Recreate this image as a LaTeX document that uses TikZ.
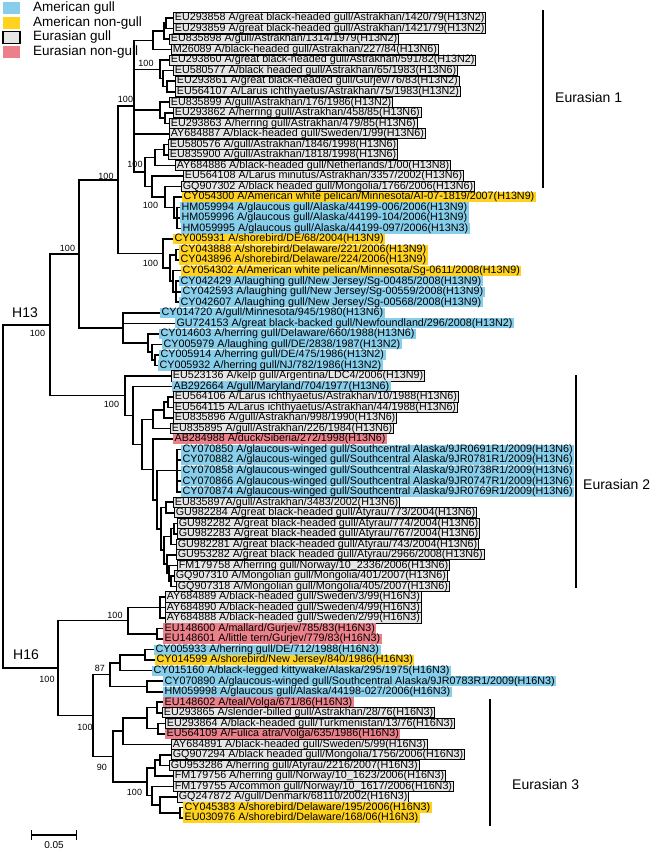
\documentclass[tikz,border=0pt]{standalone}
\usepackage{fontspec}
\setmainfont{Liberation Sans}
\usetikzlibrary{calc}

\definecolor{gullblue}{RGB}{135,206,235}
\definecolor{nongullyellow}{RGB}{255,210,30}
\definecolor{gullgray}{RGB}{230,230,230}
\definecolor{nongullpink}{RGB}{236,128,138}

% clade: name, x, first child, last child
\newcommand{\clade}[4]{%
  \path let \p1=(#3), \p2=(#4) in (#2pt,{0.5*(\y1+\y2)}) coordinate (#1);
  \draw[branch] (#3) -| (#1) |- (#4);}
\newcommand{\twig}[2]{\draw[branch] (#1) |- (#2);}

\begin{document}
\begin{tikzpicture}[x=1pt,y=-1pt,
    branch/.style={line width=1.6pt},
    leaf/.style={anchor=west,font=\fontsize{10.75}{11}\selectfont,inner xsep=1.4pt,inner ysep=0pt,text height=7.9pt,text depth=2.3pt},
    gullam/.style={leaf,fill=gullblue},
    nongullam/.style={leaf,fill=nongullyellow},
    gulleu/.style={leaf,fill=gullgray,draw=black,line width=0.9pt},
    nongulleu/.style={leaf,fill=nongullpink},
    boot/.style={font=\fontsize{9}{9}\selectfont,inner sep=0pt},
    big/.style={font=\fontsize{14}{14}\selectfont,inner sep=0pt,anchor=west},
    keytext/.style={font=\fontsize{13.5}{14}\selectfont,inner sep=0pt,anchor=west},
    key/.style={minimum width=17pt,minimum height=12pt,inner sep=0pt}]
\useasboundingbox (0,0) rectangle (654,851);

% legend
\node[key,fill=gullblue] (keyam) at (11.5,8.5) {};
\node[key,fill=nongullyellow] (keynam) at (11.5,23) {};
\node[key,fill=gullgray,draw=black,line width=1.6pt] (keyeu) at (11.5,37.5) {};
\node[key,fill=nongullpink] (keyneu) at (11.5,52.5) {};
\node[keytext] (txtam) at (33,8.5) {American gull};
\node[keytext] (txtnam) at (33,23) {American non-gull};
\node[keytext] (txteu) at (33,37.5) {Eurasian gull};
\node[keytext] (txtneu) at (33,52.5) {Eurasian non-gull};

% leaves, H13
\node[gulleu] (EU293858) at (173,18.0) {EU293858 A/great black-headed gull/Astrakhan/1420/79(H13N2)};
\node[gulleu] (EU293859) at (173,28.5) {EU293859 A/great black-headed gull/Astrakhan/1421/79(H13N2)};
\node[gulleu] (EU835898) at (169,39.1) {EU835898 A/gull/Astrakhan/1314/1979(H13N2)};
\node[gulleu] (M26089) at (171,49.6) {M26089 A/black-headed gull/Astrakhan/227/84(H13N6)};
\node[gulleu] (EU293860) at (169,60.1) {EU293860 A/great black-headed gull/Astrakhan/591/82(H13N2)};
\node[gulleu] (EU580577) at (173,70.6) {EU580577 A/black headed gull/Astrakhan/65/1983(H13N6)};
\node[gulleu] (EU293861) at (175,81.2) {EU293861 A/great black-headed gull/Gurjev/76/83(H13N2)};
\node[gulleu] (EU564107) at (175,91.7) {EU564107 A/Larus ichthyaetus/Astrakhan/75/1983(H13N2)};
\node[gulleu] (EU835899) at (169,102.2) {EU835899 A/gull/Astrakhan/176/1986(H13N2)};
\node[gulleu] (EU293862) at (173,112.7) {EU293862 A/herring gull/Astrakhan/458/85(H13N6)};
\node[gulleu] (EU293863) at (169,123.3) {EU293863 A/herring gull/Astrakhan/479/85(H13N6)};
\node[gulleu] (AY684887) at (169,133.8) {AY684887 A/black-headed gull/Sweden/1/99(H13N6)};
\node[gulleu] (EU580576) at (168,144.3) {EU580576 A/gull/Astrakhan/1846/1998(H13N6)};
\node[gulleu] (EU835900) at (168,154.8) {EU835900 A/gull/Astrakhan/1818/1998(H13N6)};
\node[gulleu] (AY684886) at (175,165.4) {AY684886 A/black-headed gull/Netherlands/1/00(H13N8)};
\node[gulleu] (EU564108) at (183,175.9) {EU564108 A/Larus minutus/Astrakhan/3357/2002(H13N6)};
\node[gulleu] (GQ907302) at (181,186.4) {GQ907302 A/black headed gull/Mongolia/1766/2006(H13N6)};
\node[nongullam] (CY054300) at (182,196.9) {CY054300 A/American white pelican/Minnesota/AI-07-1819/2007(H13N9)};
\node[gullam] (HM059994) at (180,207.5) {HM059994 A/glaucous gull/Alaska/44199-006/2006(H13N9)};
\node[gullam] (HM059996) at (180,218.0) {HM059996 A/glaucous gull/Alaska/44199-104/2006(H13N9)};
\node[gullam] (HM059995) at (181,228.5) {HM059995 A/glaucous gull/Alaska/44199-097/2006(H13N3)};
\node[nongullam] (CY005931) at (173,239.0) {CY005931 A/shorebird/DE/68/2004(H13N9)};
\node[nongullam] (CY043888) at (179,249.6) {CY043888 A/shorebird/Delaware/221/2006(H13N9)};
\node[nongullam] (CY043896) at (179,260.1) {CY043896 A/shorebird/Delaware/224/2006(H13N9)};
\node[nongullam] (CY054302) at (181,270.6) {CY054302 A/American white pelican/Minnesota/Sg-0611/2008(H13N9)};
\node[gullam] (CY042429) at (179,281.2) {CY042429 A/laughing gull/New Jersey/Sg-00485/2008(H13N9)};
\node[gullam] (CY042593) at (181,291.7) {CY042593 A/laughing gull/New Jersey/Sg-00559/2008(H13N9)};
\node[gullam] (CY042607) at (179,302.2) {CY042607 A/laughing gull/New Jersey/Sg-00568/2008(H13N9)};
\node[gullam] (CY014720) at (160,312.7) {CY014720 A/gull/Minnesota/945/1980(H13N6)};
\node[gullam] (GU724153) at (175,323.3) {GU724153 A/great black-backed gull/Newfoundland/296/2008(H13N2)};
\node[gullam] (CY014603) at (159,333.8) {CY014603 A/herring gull/Delaware/660/1988(H13N6)};
\node[gullam] (CY005979) at (162,344.3) {CY005979 A/laughing gull/DE/2838/1987(H13N2)};
\node[gullam] (CY005914) at (159,354.8) {CY005914 A/herring gull/DE/475/1986(H13N2)};
\node[gullam] (CY005932) at (158,365.4) {CY005932 A/herring gull/NJ/782/1986(H13N2)};
\node[gulleu] (EU523136) at (171,375.9) {EU523136 A/kelp gull/Argentina/LDC4/2006(H13N9)};
\node[gullam] (AB292664) at (172,386.4) {AB292664 A/gull/Maryland/704/1977(H13N6)};
\node[gulleu] (EU564106) at (173,396.9) {EU564106 A/Larus ichthyaetus/Astrakhan/10/1988(H13N6)};
\node[gulleu] (EU564115) at (173,407.5) {EU564115 A/Larus ichthyaetus/Astrakhan/44/1988(H13N6)};
\node[gulleu] (EU835896) at (173,418.0) {EU835896 A/gull/Astrakhan/998/1990(H13N6)};
\node[gulleu] (EU835895) at (170,428.5) {EU835895 A/gull/Astrakhan/226/1984(H13N6)};
\node[nongulleu] (AB284988) at (173,439.1) {AB284988 A/duck/Siberia/272/1998(H13N6)};
\node[gullam] (CY070850) at (181,449.6) {CY070850 A/glaucous-winged gull/Southcentral Alaska/9JR0691R1/2009(H13N6)};
\node[gullam] (CY070882) at (181,460.1) {CY070882 A/glaucous-winged gull/Southcentral Alaska/9JR0781R1/2009(H13N6)};
\node[gullam] (CY070858) at (181,470.6) {CY070858 A/glaucous-winged gull/Southcentral Alaska/9JR0738R1/2009(H13N6)};
\node[gullam] (CY070866) at (181,481.2) {CY070866 A/glaucous-winged gull/Southcentral Alaska/9JR0747R1/2009(H13N6)};
\node[gullam] (CY070874) at (181,491.7) {CY070874 A/glaucous-winged gull/Southcentral Alaska/9JR0769R1/2009(H13N6)};
\node[gulleu] (EU835897) at (173,502.2) {EU835897A/gull/Astrakhan/3483/2002(H13N6)};
\node[gulleu] (GU982284) at (174,512.7) {GU982284 A/great black-headed gull/Atyrau/773/2004(H13N6)};
\node[gulleu] (GU982282) at (177,523.3) {GU982282 A/great black-headed gull/Atyrau/774/2004(H13N6)};
\node[gulleu] (GU982283) at (177,533.8) {GU982283 A/great black-headed gull/Atyrau/767/2004(H13N6)};
\node[gulleu] (GU982281) at (176,544.3) {GU982281 A/great black-headed gull/Atyrau/743/2004(H13N6)};
\node[gulleu] (GU953282) at (176,554.8) {GU953282 A/great black headed gull/Atyrau/2966/2008(H13N6)};
\node[gulleu] (FM179758) at (177,565.4) {FM179758 A/herring gull/Norway/10\_2336/2006(H13N6)};
\node[gulleu] (GQ907310) at (174,575.9) {GQ907310 A/Mongolian gull/Mongolia/401/2007(H13N6)};
\node[gulleu] (GQ907318) at (176,586.4) {GQ907318 A/Mongolian gull/Mongolia/405/2007(H13N6)};
% leaves, H16
\node[gulleu] (AY684889) at (165,596.9) {AY684889 A/black-headed gull/Sweden/3/99(H16N3)};
\node[gulleu] (AY684890) at (165,607.5) {AY684890 A/black-headed gull/Sweden/4/99(H16N3)};
\node[gulleu] (AY684888) at (165,618.0) {AY684888 A/black-headed gull/Sweden/2/99(H16N3)};
\node[nongulleu] (EU148600) at (163,628.5) {EU148600 A/mallard/Gurjev/785/83(H16N3)};
\node[nongulleu] (EU148601) at (163,639.1) {EU148601 A/little tern/Gurjev/779/83(H16N3)};
\node[gullam] (CY005933) at (154,649.6) {CY005933 A/herring gull/DE/712/1988(H16N3)};
\node[nongullam] (CY014599) at (155,660.1) {CY014599 A/shorebird/New Jersey/840/1986(H16N3)};
\node[gullam] (CY015160) at (152,670.6) {CY015160 A/black-legged kittywake/Alaska/295/1975(H16N3)};
\node[gullam] (CY070890) at (163,681.2) {CY070890 A/glaucous-winged gull/Southcentral Alaska/9JR0783R1/2009(H16N3)};
\node[gullam] (HM059998) at (163,691.7) {HM059998 A/glaucous gull/Alaska/44198-027/2006(H16N3)};
\node[nongulleu] (EU148602) at (163,702.2) {EU148602 A/teal/Volga/671/86(H16N3)};
\node[gulleu] (EU293865) at (162,712.7) {EU293865 A/slender-billed gull/Astrakhan/28/76(H16N3)};
\node[gulleu] (EU293864) at (165,723.3) {EU293864 A/black-headed gull/Turkmenistan/13/76(H16N3)};
\node[nongulleu] (EU564109) at (165,733.8) {EU564109 A/Fulica atra/Volga/635/1986(H16N3)};
\node[gulleu] (AY684891) at (171,744.3) {AY684891 A/black-headed gull/Sweden/5/99(H16N3)};
\node[gulleu] (GQ907294) at (171,754.8) {GQ907294 A/black headed gull/Mongolia/1756/2006(H16N3)};
\node[gulleu] (GU953286) at (169,765.4) {GU953286 A/herring gull/Atyrau/2216/2007(H16N3)};
\node[gulleu] (FM179756) at (173,775.9) {FM179756 A/herring gull/Norway/10\_1623/2006(H16N3)};
\node[gulleu] (FM179755) at (173,786.4) {FM179755 A/common gull/Norway/10\_1617/2006(H16N3)};
\node[gulleu] (GQ247872) at (177,796.9) {GQ247872 A/gull/Denmark/68110/2002(H16N3)};
\node[nongullam] (CY045383) at (183,807.5) {CY045383 A/shorebird/Delaware/195/2006(H16N3)};
\node[nongullam] (EU030976) at (183,818.0) {EU030976 A/shorebird/Delaware/168/06(H16N3)};

% Eurasian 1
\clade{e1a}{166}{EU293858}{EU293859}
\clade{e1b}{164}{e1a}{EU835898}
\clade{e1c}{153}{e1b}{M26089}
\clade{e1d}{167}{EU293861}{EU564107}
\clade{e1e}{163}{EU580577}{e1d}
\clade{e1f}{160}{EU293860}{e1e}
\clade{e1g}{165}{EU293862}{EU293863}
\clade{e1h}{160}{EU835899}{e1g}
\clade{e1i}{164}{EU580576}{EU835900}
\clade{e1j}{155}{e1i}{AY684886}
\clade{e1k}{177}{HM059994}{HM059995}
\twig{e1k}{HM059996}
\clade{e1l}{174}{CY054300}{e1k}
\clade{e1m}{165}{GQ907302}{e1l}
\clade{e1n}{152}{EU564108}{e1m}
\clade{e1o}{145}{e1j}{e1n}
\clade{eur1}{134}{e1c}{e1o}
\twig{eur1}{e1f}
\twig{eur1}{e1h}
\twig{eur1}{AY684887}
% American H13N9
\clade{am1}{176}{CY043888}{CY043896}
\clade{am2}{176}{CY042429}{CY042607}
\twig{am2}{CY042593}
\clade{am3}{173}{CY054302}{am2}
\clade{am4}{170}{am1}{am3}
\clade{am5}{163}{CY005931}{am4}
\clade{ea}{118}{eur1}{am5}
% American H13 gulls
\clade{am6}{155}{CY005914}{CY005932}
\clade{am7}{152}{CY005979}{am6}
\clade{am8}{148}{CY014603}{am7}
\clade{am9}{123}{CY014720}{am8}
\twig{am9}{GU724153}
\clade{h13a}{79}{ea}{am9}
% Eurasian 2
\clade{e2a}{168}{EU564106}{EU564115}
\clade{e2b}{164}{e2a}{EU835896}
\clade{e2c}{153}{e2b}{EU835895}
\clade{e2d}{177}{CY070850}{CY070874}
\twig{e2d}{CY070882}
\twig{e2d}{CY070858}
\twig{e2d}{CY070866}
\clade{e2e}{166}{EU835897}{GU982284}
\clade{e2f}{174}{GU982282}{GU982283}
\clade{e2g}{171}{e2f}{GU982281}
\clade{e2h}{171}{GQ907310}{GQ907318}
\clade{e2i}{169}{FM179758}{e2h}
\clade{e2j}{167}{GU953282}{e2i}
\clade{e2k}{164}{e2g}{e2j}
\clade{e2l}{161}{e2e}{e2k}
\clade{e2m}{157}{e2d}{e2l}
\clade{e2n}{153}{AB284988}{e2m}
\clade{e2o}{142}{e2c}{e2n}
\clade{e2p}{133}{AB292664}{e2o}
\clade{h13b}{125}{EU523136}{e2p}
\clade{h13}{50}{h13a}{h13b}
% H16
\clade{h16a}{160}{AY684889}{AY684888}
\twig{h16a}{AY684890}
\clade{h16b}{157}{EU148600}{EU148601}
\clade{h16c}{128}{h16a}{h16b}
\clade{h16d}{145}{CY005933}{CY014599}
\clade{h16e}{120}{h16d}{CY015160}
\clade{h16f}{147}{CY070890}{HM059998}
\clade{h16g}{110}{h16e}{h16f}
\clade{e3a}{157}{EU148602}{EU293865}
\clade{e3b}{158}{EU293864}{EU564109}
\clade{e3c}{147}{e3a}{e3b}
\clade{e3d}{123}{e3c}{AY684891}
\clade{e3e}{160}{GQ907294}{GU953286}
\clade{e3f}{155}{e3e}{FM179756}
\clade{e3g}{180}{CY045383}{EU030976}
\clade{e3h}{160}{GQ247872}{e3g}
\clade{e3i}{152}{FM179755}{e3h}
\clade{e3j}{147}{e3f}{e3i}
\clade{e3k}{113}{e3d}{e3j}
\clade{h16h}{93}{h16g}{e3k}
\clade{h16}{58}{h16c}{h16h}
\clade{root}{3}{h13}{h16}

% bootstrap values
\node[boot] (bs1) at (146,63) {100};
\node[boot] (bs2) at (125.5,99) {100};
\node[boot] (bs3) at (135,164) {100};
\node[boot] (bs4) at (150.5,205) {100};
\node[boot] (bs5) at (106,176) {100};
\node[boot] (bs6) at (150.5,263) {100};
\node[boot] (bs7) at (67.5,248) {100};
\node[boot] (bs8) at (37.5,333) {100};
\node[boot] (bs9) at (111.5,404) {100};
\node[boot] (bs10) at (115,615) {100};
\node[boot] (bs11) at (47,679) {100};
\node[boot] (bs12) at (100,668) {87};
\node[boot] (bs13) at (85,727) {100};
\node[boot] (bs14) at (102,767) {90};
\node[boot] (bs15) at (134.5,792) {100};

% subtypes and lineages
\node[big] (lh13) at (12,313) {H13};
\node[big] (lh16) at (13,655) {H16};
\draw[line width=1.2pt] (543,10) -- (543,188);
\node[big] (leur1) at (555,97) {Eurasian 1};
\draw[line width=1.2pt] (576,375) -- (576,588);
\node[big] (leur2) at (583,484) {Eurasian 2};
\draw[line width=1.2pt] (490,699) -- (490,826);
\node[big] (leur3) at (512,784) {Eurasian 3};

% scale bar
\coordinate (sb1) at (31,835);
\coordinate (sb2) at (77,835);
\draw[|-|,line width=1.4pt] (sb1) -- (sb2);
\node[boot,font=\fontsize{10}{10}\selectfont] (sbl) at (54,845) {0.05};
\end{tikzpicture}
\end{document}
